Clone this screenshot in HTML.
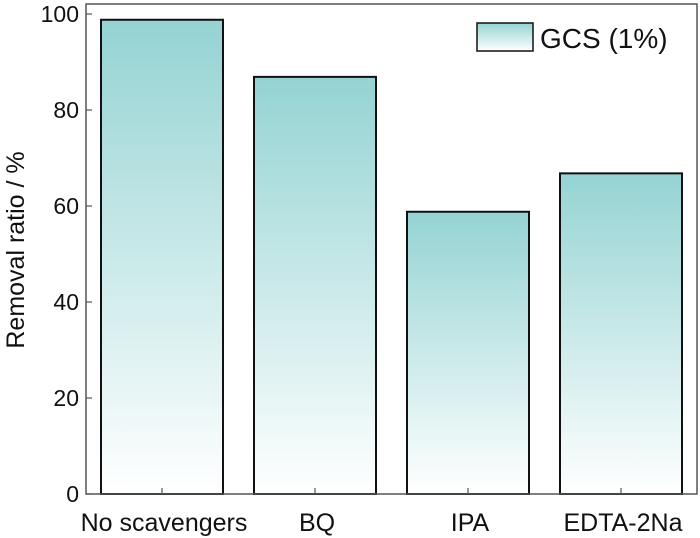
<!DOCTYPE html>
<html><head><meta charset="utf-8"><style>
body{margin:0;background:#fff;}
svg{display:block;font-family:"Liberation Sans",Arial,sans-serif;}
</style></head><body>
<svg width="700" height="538" viewBox="0 0 700 538">
<defs>
<linearGradient id="g" x1="0" y1="0" x2="0" y2="1">
<stop offset="0" stop-color="#95d3d3"/><stop offset="1" stop-color="#ffffff"/>
</linearGradient>
</defs>
<g id="bars"></g>
<rect x="86" y="4" width="611" height="490" fill="none" stroke="#555" stroke-width="1.5"/>
<g id="ticks"></g>
<text transform="translate(24,250) rotate(-90)" text-anchor="middle" font-size="25" fill="#111">Removal ratio / %</text>
<g>
<rect x="477" y="23" width="56" height="28" fill="url(#g)" stroke="#111" stroke-width="1.5"/>
<text x="540" y="48" font-size="28" fill="#111">GCS (1%)</text>
</g>
</svg>
<script>
const categories=["No scavengers","BQ","IPA","EDTA-2Na"];
const values=[98.8,86.9,58.8,66.8];
const yTicks=[0,20,40,60,80,100];
const ns="http://www.w3.org/2000/svg";
function y(v){return 494-4.8*v;}
function xc(i){return 162+153*i;}
const bw=122;
const bars=document.getElementById('bars'),ticks=document.getElementById('ticks');
function mk(t,a,p){const e=document.createElementNS(ns,t);for(const k in a)e.setAttribute(k,a[k]);p.appendChild(e);return e;}
values.forEach((v,i)=>{
 const r=mk('rect',{x:xc(i)-bw/2,y:y(v),width:bw,height:y(0)-y(v),fill:'url(#g)',stroke:'#111','stroke-width':2},bars);
 
 
 const tk=mk('line',{x1:xc(i),x2:xc(i),y1:494,y2:488,stroke:'#555','stroke-width':1.2},ticks);
 
 
 const t=mk('text',{x:xc(i)+2,y:531,'text-anchor':'middle','font-size':25,fill:'#111'},ticks);
 t.textContent=categories[i];
 
 
});
yTicks.forEach(v=>{
 const tk=mk('line',{x1:86,x2:92,y1:y(v),y2:y(v),stroke:'#555','stroke-width':1.2},ticks);
 
 
 const t=mk('text',{x:79,y:y(v)+8,'text-anchor':'end','font-size':23,fill:'#111'},ticks);
 t.textContent=v;
 
 
});
</script>
</body></html>
